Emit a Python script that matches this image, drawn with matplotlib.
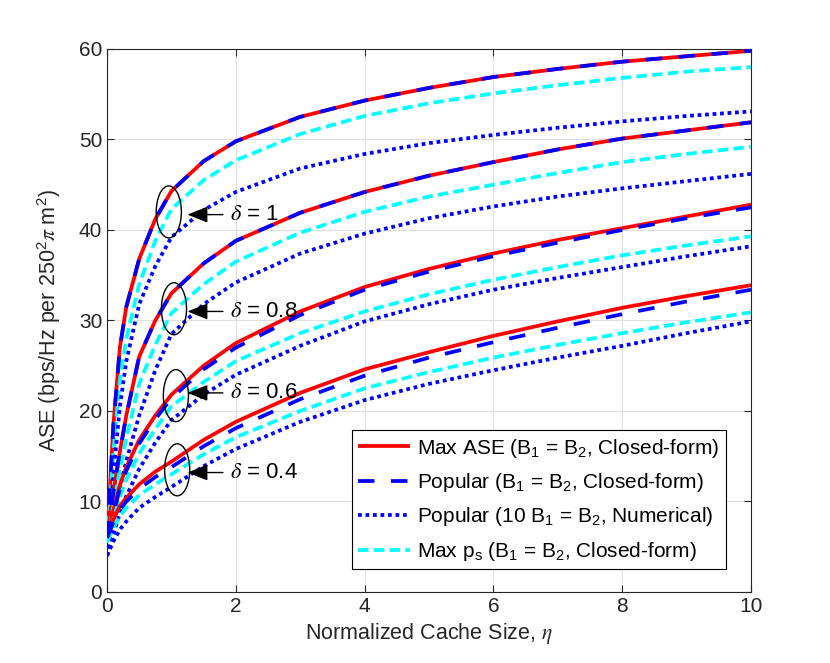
import numpy as np
import matplotlib
matplotlib.use('Agg')
import matplotlib.pyplot as plt
from matplotlib.patches import Ellipse

plt.rcParams['font.family'] = ['Liberation Sans', 'DejaVu Sans']
plt.rcParams['mathtext.fontset'] = 'stix'

# normalized cache size samples
eta = [0, 0.05, 0.1, 0.2, 0.3, 0.5, 0.75, 1, 1.5, 2, 3, 4, 5, 6, 7, 8, 9, 10]

# delta = 1
max_ase_d10 = [6.0, 12.0, 18.5, 27.0, 31.5, 36.8, 41.2, 44.3, 47.6, 49.8, 52.5, 54.3, 55.7, 56.9, 57.8, 58.6, 59.2, 59.8]
pop_cf_d10 = [6.0, 12.0, 18.5, 27.0, 31.5, 36.8, 41.2, 44.3, 47.6, 49.8, 52.5, 54.3, 55.7, 56.9, 57.8, 58.6, 59.2, 59.8]
pop_num_d10 = [4.0, 8.0, 13.0, 20.5, 25.5, 31.8, 36.0, 39.2, 42.2, 44.2, 46.8, 48.4, 49.6, 50.5, 51.3, 52.0, 52.6, 53.1]
max_ps_d10 = [5.5, 10.0, 15.5, 23.5, 28.0, 34.0, 38.8, 42.3, 45.5, 47.7, 50.6, 52.6, 54.0, 55.1, 56.0, 56.8, 57.5, 58.0]

# delta = 0.8
max_ase_d08 = [6.0, 8.5, 11.0, 15.5, 19.5, 26.0, 30.0, 33.0, 36.3, 38.8, 41.9, 44.2, 46.0, 47.5, 48.9, 50.1, 51.0, 51.9]
pop_cf_d08 = [6.0, 8.5, 11.0, 15.5, 19.5, 26.0, 30.0, 33.0, 36.3, 38.8, 41.9, 44.2, 46.0, 47.5, 48.9, 50.1, 51.0, 51.9]
pop_num_d08 = [4.0, 6.0, 8.0, 11.5, 14.5, 19.5, 24.5, 28.5, 31.8, 34.2, 37.4, 39.6, 41.3, 42.6, 43.7, 44.6, 45.4, 46.2]
max_ps_d08 = [5.5, 7.5, 9.5, 13.5, 17.0, 23.0, 27.3, 30.8, 34.0, 36.5, 39.7, 42.0, 43.7, 45.0, 46.3, 47.5, 48.4, 49.2]

# delta = 0.6
max_ase_d06 = [6.0, 7.5, 9.0, 11.8, 13.8, 16.8, 19.5, 21.8, 25.0, 27.5, 31.0, 33.7, 35.7, 37.4, 38.9, 40.2, 41.5, 42.8]
pop_cf_d06 = [6.0, 7.3, 8.7, 11.4, 13.4, 16.4, 19.1, 21.4, 24.6, 27.0, 30.6, 33.4, 35.4, 37.1, 38.6, 40.0, 41.3, 42.5]
pop_num_d06 = [4.0, 5.2, 6.4, 8.7, 10.6, 13.6, 16.5, 19.0, 21.8, 24.0, 27.2, 29.9, 31.8, 33.4, 34.7, 35.9, 37.1, 38.2]
max_ps_d06 = [5.5, 6.8, 8.0, 10.5, 12.4, 15.3, 18.0, 20.5, 23.2, 25.5, 28.6, 31.0, 32.9, 34.5, 35.9, 37.2, 38.3, 39.3]

# delta = 0.4
max_ase_d04 = [6.0, 7.0, 8.0, 9.5, 10.4, 11.9, 13.3, 14.4, 16.8, 18.8, 22.0, 24.6, 26.5, 28.3, 29.9, 31.4, 32.7, 33.9]
pop_cf_d04 = [6.0, 6.8, 7.7, 9.1, 10.0, 11.4, 12.7, 13.8, 16.1, 18.1, 21.3, 23.9, 25.9, 27.6, 29.2, 30.7, 32.1, 33.4]
pop_num_d04 = [4.0, 4.8, 5.6, 6.9, 7.8, 9.3, 10.5, 11.6, 13.9, 15.8, 18.8, 21.2, 23.0, 24.5, 25.9, 27.2, 28.6, 29.9]
max_ps_d04 = [5.5, 6.3, 7.1, 8.4, 9.3, 10.7, 11.9, 13.0, 15.2, 17.1, 20.0, 22.5, 24.3, 25.9, 27.3, 28.6, 29.8, 30.9]

delta_labels = ['1', '0.8', '0.6', '0.4']
legend_labels = [
    r'Max ASE (B$\mathregular{_1}$ = B$\mathregular{_2}$, Closed-form)',
    r'Popular (B$\mathregular{_1}$ = B$\mathregular{_2}$, Closed-form)',
    r'Popular (10 B$\mathregular{_1}$ = B$\mathregular{_2}$, Numerical)',
    r'Max p$\mathregular{_s}$ (B$\mathregular{_1}$ = B$\mathregular{_2}$, Closed-form)',
]

groups = [
    (max_ase_d10, pop_cf_d10, pop_num_d10, max_ps_d10),
    (max_ase_d08, pop_cf_d08, pop_num_d08, max_ps_d08),
    (max_ase_d06, pop_cf_d06, pop_num_d06, max_ps_d06),
    (max_ase_d04, pop_cf_d04, pop_num_d04, max_ps_d04),
]

fig = plt.figure(figsize=(8.3, 6.63), dpi=100)
ax = fig.add_axes([0.1289, 0.1071, 0.7759, 0.8190])

lw = 2.7
handles = []
for i, (a, b, c, d) in enumerate(groups):
    h1, = ax.plot(eta, a, color='red', lw=lw, solid_capstyle='butt', zorder=3)
    h4, = ax.plot(eta, d, color='cyan', lw=lw, ls=(0, (2.8, 1.4)), dash_capstyle='butt', zorder=3)
    h3, = ax.plot(eta, c, color='blue', lw=lw, ls=(0, (1.0, 1.0)), dash_capstyle='butt', zorder=3)
    h2, = ax.plot(eta, b, color='blue', lw=lw, ls=(0, (4.4, 4.4)), dash_capstyle='butt', zorder=4)
    if i == 0:
        handles = [h1, h2, h3, h4]

# ellipses + arrows + delta labels
ell_pos = [(0.96, 42.0), (1.04, 31.3), (1.07, 21.7), (1.09, 13.5)]
arrow_y = [41.7, 31.0, 22.0, 13.2]
for (cx, cy), yy, lab in zip(ell_pos, arrow_y, delta_labels):
    ax.add_patch(Ellipse((cx, cy), 0.39, 5.75, fill=False, ec='black', lw=1.0, zorder=5))
    ax.annotate('', xy=(1.25, yy), xytext=(1.80, yy),
                arrowprops=dict(arrowstyle='-|>,head_length=1.25,head_width=0.5',
                                color='black', lw=1.0, shrinkA=0, shrinkB=0),
                zorder=5)
    ax.text(1.91, yy, r'$\delta$ = ' + lab, fontsize=16, va='center', ha='left', zorder=5)

ax.set_xlim(0, 10)
ax.set_ylim(0, 60)
ax.set_xticks([0, 2, 4, 6, 8, 10])
ax.set_yticks([0, 10, 20, 30, 40, 50, 60])
ax.grid(True, color='#dfdfdf', lw=0.8)
ax.set_axisbelow(True)
ax.tick_params(direction='in', top=True, right=True, labelsize=15, colors='#262626', length=5)
for s in ax.spines.values():
    s.set_color('#262626')
    s.set_linewidth(0.8)

ax.set_xlabel(r'Normalized Cache Size, $\eta$', fontsize=15.5, color='#262626', labelpad=4)
ax.set_ylabel(r'ASE (bps/Hz per 250$\mathregular{^2}\pi$ m$\mathregular{^2}$)', fontsize=15.5, color='#262626', labelpad=11)

leg = ax.legend(handles, legend_labels, loc='lower left', bbox_to_anchor=(0.380, 0.042),
                fontsize=15, frameon=True, fancybox=False, framealpha=1, edgecolor='black',
                handlelength=2.5, handletextpad=0.35, borderpad=0.3, labelspacing=0.55,
                borderaxespad=0)
leg.get_frame().set_linewidth(0.8)

fig.savefig('out.png', dpi=100)
